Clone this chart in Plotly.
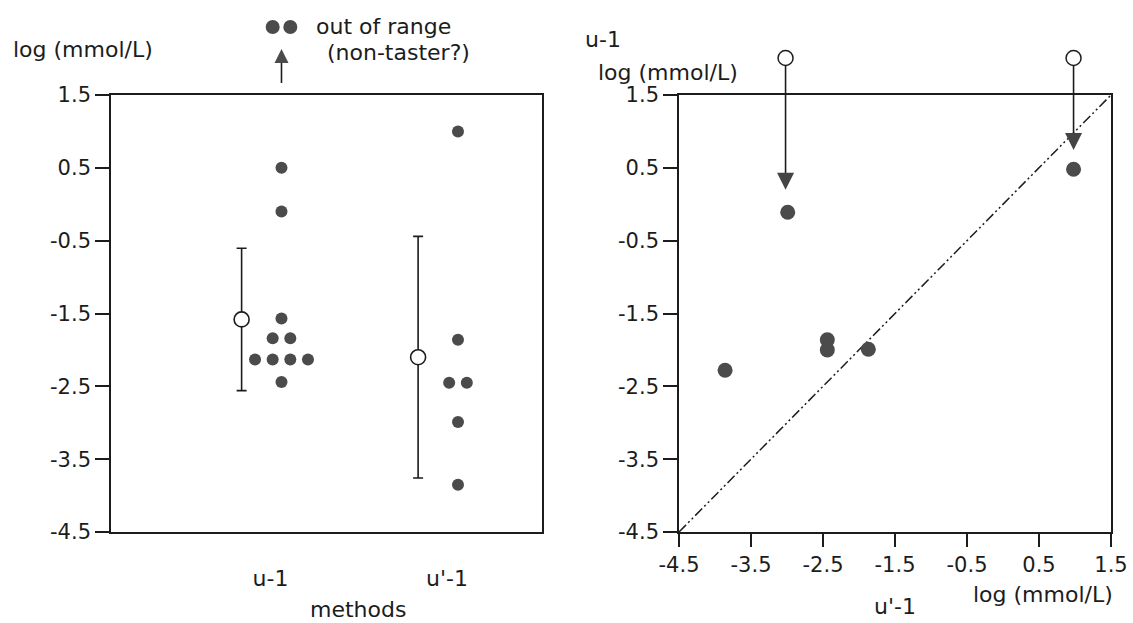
import numpy as np
import plotly.graph_objects as go

# ---------------- data ----------------
methods = ["u-1", "u'-1"]
u1_values = [0.5, -0.1, -1.57, -1.84, -1.84, -2.13, -2.13, -2.13, -2.13, -2.44]
u1p_values = [1.0, -1.86, -2.45, -2.45, -2.99, -3.85]
u1_offscale_n = 2  # "out of range (non-taster?)"

# paired values (right panel): x = u'-1, y = u-1
pair_u1p = [-2.99, 0.98, -3.86, -2.44, -2.44, -1.87]
pair_u1 = [-0.11, 0.48, -2.28, -1.86, -2.00, -1.99]
pair_offscale_x = [-3.02, 0.98]
pair_arrow_tip_y = [0.2, 0.745]

tick_vals = [-4.5, -3.5, -2.5, -1.5, -0.5, 0.5, 1.5]
tick_text = ["-4.5", "-3.5", "-2.5", "-1.5", "-0.5", "0.5", "1.5"]

# ---------------- layout constants ----------------
W, H = 1133, 623
LX = (111, 542)
RX = (679, 1111)
YPX = (95, 532)          # top, bottom pixel of both panels
YR = (-4.5, 1.5)
UNIT = (YPX[1] - YPX[0]) / (YR[1] - YR[0])   # px per y unit

def xdom(px):
    return [px[0] / W, px[1] / W]

ydom = [1 - YPX[1] / H, 1 - YPX[0] / H]
yfull = [YR[0] - (H - YPX[1]) / UNIT, YR[1] + YPX[0] / UNIT]

LEFT_XR = [0.147, 2.589]
DOT_OFF = 0.113
MEAN_OFF = -0.113
SWARM = 0.1

INK = "#1c1c1c"
DOT = "#4b4b4b"
FONT = "DejaVu Sans"

def swarm(values, center):
    xs = []
    vals = list(values)
    for i, v in enumerate(vals):
        same = [j for j, w in enumerate(vals) if w == v]
        n = len(same)
        k = same.index(i)
        xs.append(center + (k - (n - 1) / 2) * SWARM)
    return xs

fig = go.Figure()

# ---- left panel: dots ----
for ci, vals in enumerate([u1_values, u1p_values]):
    c = ci + 1
    fig.add_trace(go.Scatter(
        x=swarm(vals, c + DOT_OFF), y=vals, mode="markers",
        marker=dict(size=12, color=DOT, line=dict(width=0)),
        xaxis="x", yaxis="y", showlegend=False, hoverinfo="skip"))
    arr = np.array(vals)
    m = arr.mean()
    sd = arr.std(ddof=1)
    fig.add_trace(go.Scatter(
        x=[c + MEAN_OFF], y=[m], mode="markers",
        marker=dict(size=15, color="white", line=dict(width=1.6, color=INK)),
        error_y=dict(type="data", array=[sd], arrayminus=[sd], color=INK,
                     thickness=1.6, width=5),
        xaxis="x", yaxis="y", showlegend=False, hoverinfo="skip"))

# ---- left panel: out-of-range indicator (overlay subplot x3/y3) ----
off_y = YR[1] + 68 / UNIT
fig.add_trace(go.Scatter(
    x=swarm([off_y] * u1_offscale_n, 1 + DOT_OFF),
    y=[off_y] * u1_offscale_n, mode="markers",
    marker=dict(size=14, color=DOT, line=dict(width=0)),
    xaxis="x3", yaxis="y3", showlegend=False, hoverinfo="skip"))
ax_x = 1 + DOT_OFF
fig.add_trace(go.Scatter(
    x=[ax_x, ax_x], y=[YR[1] + 12 / UNIT, YR[1] + 36 / UNIT], mode="lines",
    line=dict(color=INK, width=1.6),
    xaxis="x3", yaxis="y3", showlegend=False, hoverinfo="skip"))
fig.add_trace(go.Scatter(
    x=[ax_x], y=[YR[1] + 46 / UNIT], mode="markers",
    marker=dict(symbol="arrow-up", size=14, color=DOT, line=dict(width=0)),
    xaxis="x3", yaxis="y3", showlegend=False, hoverinfo="skip"))

# ---- right panel ----
fig.add_trace(go.Scatter(
    x=tick_vals[:1] + tick_vals[-1:], y=tick_vals[:1] + tick_vals[-1:], mode="lines",
    line=dict(color=INK, width=1.5, dash="10px,3px,2px,3px,2px,3px"),
    xaxis="x2", yaxis="y2", showlegend=False, hoverinfo="skip"))
fig.add_trace(go.Scatter(
    x=pair_u1p, y=pair_u1, mode="markers",
    marker=dict(size=15, color=DOT, line=dict(width=0)),
    xaxis="x2", yaxis="y2", showlegend=False, hoverinfo="skip"))

circ_y = YR[1] + 37 / UNIT
for xv, tip in zip(pair_offscale_x, pair_arrow_tip_y):
    fig.add_trace(go.Scatter(
        x=[xv, xv], y=[circ_y, tip + 14 / UNIT], mode="lines",
        line=dict(color=INK, width=1.6),
        xaxis="x4", yaxis="y4", showlegend=False, hoverinfo="skip"))
fig.add_trace(go.Scatter(
    x=pair_offscale_x, y=pair_arrow_tip_y, mode="markers",
    marker=dict(symbol="arrow-down", size=17, color="#444444", line=dict(width=0)),
    xaxis="x4", yaxis="y4", showlegend=False, hoverinfo="skip"))
fig.add_trace(go.Scatter(
    x=pair_offscale_x, y=[circ_y] * len(pair_offscale_x), mode="markers",
    marker=dict(size=15, color="white", line=dict(width=1.5, color=INK)),
    xaxis="x4", yaxis="y4", showlegend=False, hoverinfo="skip"))

tickfont = dict(family=FONT, size=21, color=INK)
common_y = dict(range=list(YR), domain=ydom, tickvals=tick_vals, ticktext=tick_text,
                ticks="outside", ticklen=14, tickwidth=1.5, tickcolor=INK,
                showline=True, linecolor=INK, linewidth=1.6, mirror=True,
                showgrid=False, zeroline=False, tickfont=tickfont, automargin=False)

fig.update_layout(
    width=W, height=H, autosize=False,
    margin=dict(l=0, r=0, t=0, b=0),
    paper_bgcolor="white", plot_bgcolor="rgba(0,0,0,0)",
    font=dict(family=FONT, color=INK),
    xaxis=dict(range=LEFT_XR, domain=xdom(LX), anchor="y",
               tickvals=[1, 2], ticktext=methods, ticks="",
               ticklabelstandoff=26, ticklabelshift=9,
               showline=True, linecolor=INK, linewidth=1.6, mirror=True,
               showgrid=False, zeroline=False, tickfont=dict(family=FONT, size=22, color=INK),
               automargin=False),
    yaxis=dict(anchor="x", **common_y),
    xaxis2=dict(range=list(YR), domain=xdom(RX), anchor="y2",
                tickvals=tick_vals, ticktext=tick_text,
                ticks="outside", ticklen=13, tickwidth=1.5, tickcolor=INK,
                ticklabelstandoff=0,
                showline=True, linecolor=INK, linewidth=1.6, mirror=True,
                showgrid=False, zeroline=False, tickfont=tickfont, automargin=False),
    yaxis2=dict(anchor="x2", **common_y),
    xaxis3=dict(range=LEFT_XR, domain=xdom(LX), anchor="y3", visible=False),
    yaxis3=dict(range=yfull, domain=[0, 1], anchor="x3", visible=False),
    xaxis4=dict(range=list(YR), domain=xdom(RX), anchor="y4", visible=False),
    yaxis4=dict(range=yfull, domain=[0, 1], anchor="x4", visible=False),
)

def label(text, xpx, ypx, anchor="left", size=22):
    fig.add_annotation(text=text, xref="paper", yref="paper",
                       x=xpx / W, y=1 - ypx / H, xanchor=anchor, yanchor="middle",
                       showarrow=False, font=dict(family=FONT, size=size, color=INK))

label("log (mmol/L)", 11, 50)
label("out of range", 314, 26)
label("(non-taster?)", 325, 52)
label("methods", 358, 609, anchor="center")
label("u-1", 583, 40)
label("log (mmol/L)", 596, 72)
label("log (mmol/L)", 1115, 594, anchor="right")
label("u'-1", 895, 606, anchor="center")

fig.write_html("out.html")
